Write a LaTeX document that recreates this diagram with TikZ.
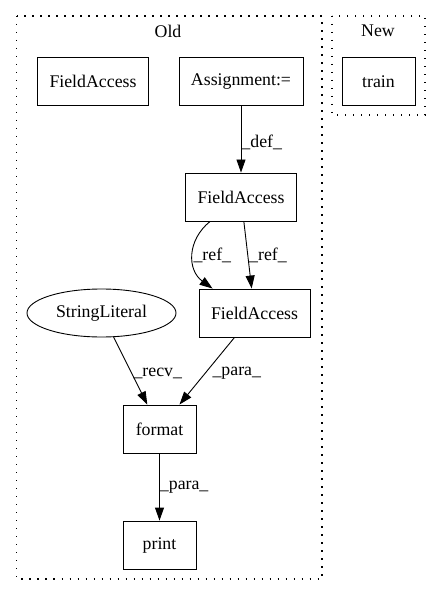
\documentclass[tikz,border=0pt]{standalone}
\usepackage{fontspec}
\setmainfont{Liberation Serif}
\usetikzlibrary{arrows.meta,shapes.geometric}

\begin{document}
\begin{tikzpicture}[
  x=1pt, y=-1pt,
  font=\fontsize{17.8}{20}\selectfont,
  block/.style={draw, line width=0.9pt, minimum width=73pt, minimum height=48pt, inner xsep=12pt},
  oval/.style={draw, ellipse, line width=0.9pt, minimum width=149pt, minimum height=48pt, inner sep=0pt},
  line/.style={-{Triangle[length=13pt,width=9pt]}, line width=0.9pt},
  lbl/.style={right, inner sep=0pt},
  cluster/.style={line width=1.2pt, dash pattern=on 1.2pt off 6.8pt}
]
\useasboundingbox (0,0) rectangle (441,596);

% Clusters
\draw[cluster] (16.5,16) rectangle (322,579);
\node (old) at (168,31) {Old};
\draw[cluster] (332,16) rectangle (425,115);
\node (new) at (378,31) {New};

% Nodes
\node[block] (fa1)   at (93,81.5)    {FieldAccess};
\node[block] (asg)   at (241,81.5)   {Assignment:=};
\node[block] (train) at (378.5,81.5) {train};
\node[block] (fa2)   at (241,197)    {FieldAccess};
\node[block] (fa3)   at (254.5,313)  {FieldAccess};
\node[oval]  (str)   at (101.5,313)  {StringLiteral};
\node[block] (fmt)   at (159.5,429)  {format};
\node[block] (prt)   at (159.5,545)  {print};

% Connections
\draw[line] (asg) -- node[lbl, pos=0.55]{\_def\_} (fa2);
\draw[line] ([xshift=25pt]fa2.south west) .. controls (187,240) and (187,270) .. node[lbl, pos=0.5]{\_ref\_} ([xshift=14pt]fa3.north west);
\draw[line] (fa2) -- node[lbl, pos=0.5, right=1pt]{\_ref\_} (fa3);
\draw[line] (str) -- node[lbl, pos=0.534, right=1.5pt]{\_recv\_} (fmt);
\draw[line] (fa3) -- node[lbl, pos=0.534, right=7pt]{\_para\_} (fmt);
\draw[line] (fmt) -- node[lbl, pos=0.51]{\_para\_} (prt);

\end{tikzpicture}
\end{document}
